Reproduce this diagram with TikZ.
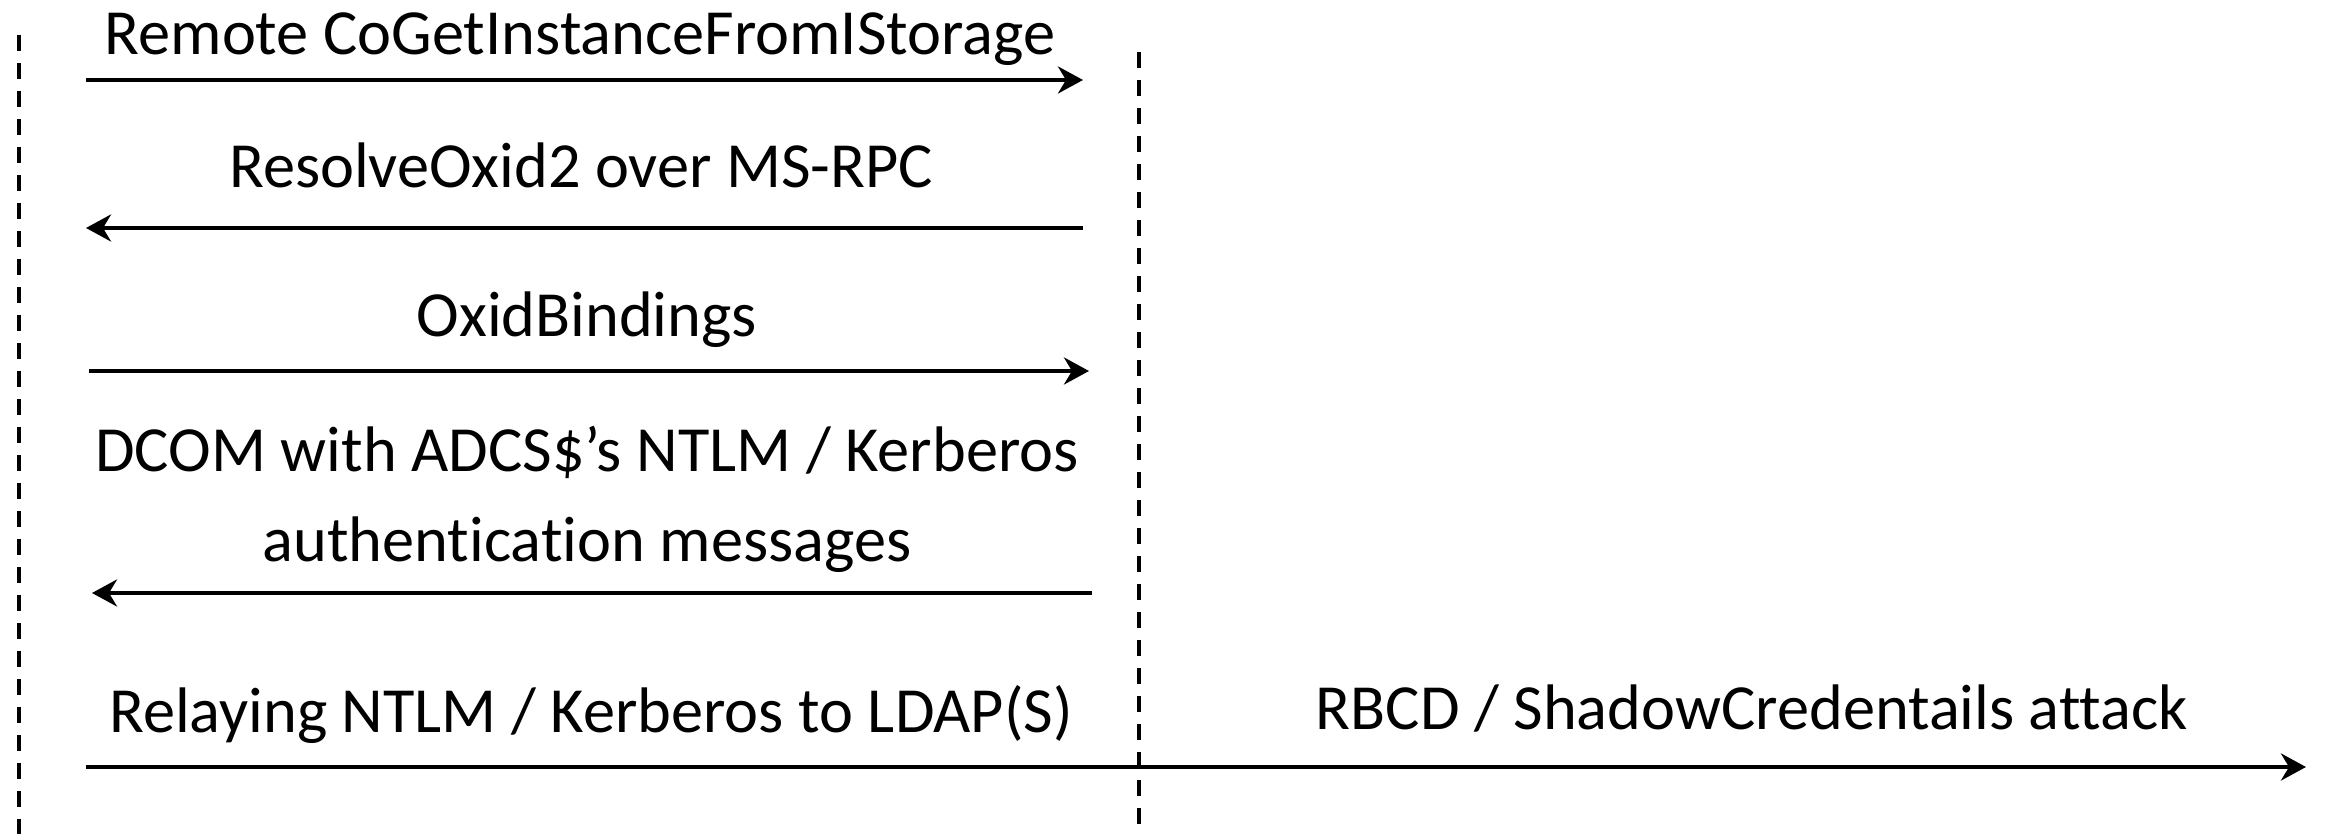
\documentclass[tikz,border=0pt]{standalone}
\usepackage{fontspec}
\setmainfont{Carlito}[Ligatures=NoCommon]
\usepackage{tikz}
\usetikzlibrary{arrows.meta}

\tikzset{
  lifeline/.style={dash pattern=on 0.16cm off 0.12cm, line width=1.1pt},
  msg/.style={line width=1.1pt, -{Stealth[length=0.25cm,width=0.27cm,inset=0.08cm]}},
  msgtext/.style={anchor=base, inner sep=0pt, align=center,
    font=\fontsize{18.3}{21.8}\selectfont}
}

\begin{document}
\begin{tikzpicture}[x=0.01cm,y=-0.01cm]
\useasboundingbox (0,0) rectangle (2336,834);
% lifelines
\coordinate (atkTop) at (19,35);
\coordinate (atkBot) at (19,834);
\coordinate (adcsTop) at (1139,52);
\coordinate (adcsBot) at (1139,834);
\draw[lifeline] (atkTop) -- (atkBot);
\draw[lifeline] (adcsTop) -- (adcsBot);
% message ends
\coordinate (m1a) at (86,80);   \coordinate (m1b) at (1083,80);
\coordinate (m2a) at (1083,228); \coordinate (m2b) at (86,228);
\coordinate (m3a) at (89,371);  \coordinate (m3b) at (1089,371);
\coordinate (m4a) at (1092,593); \coordinate (m4b) at (92,593);
\coordinate (m5a) at (86,767);  \coordinate (m5b) at (2306,767);
\draw[msg] (m1a) -- (m1b);
\draw[msg] (m2a) -- (m2b);
\draw[msg] (m3a) -- (m3b);
\draw[msg] (m4a) -- (m4b);
\draw[msg] (m5a) -- (m5b);
% labels
\node[msgtext] (t1) at (580,55) {Remote CoGetInstanceFromIStorage};
\node[msgtext] (t2) at (581,188) {ResolveOxid2 over MS-RPC};
\node[msgtext] (t3) at (587,337) {OxidBindings};
\node[msgtext] (t4) at (587,562) {DCOM with ADCS\$’s NTLM / Kerberos\\[0.14cm]authentication messages};
\node[msgtext] (t5) at (591,733) {Relaying NTLM / Kerberos to LDAP(S)};
\node[msgtext] (t6) at (1752,730) {RBCD / ShadowCredentails attack};
\end{tikzpicture}
\end{document}
